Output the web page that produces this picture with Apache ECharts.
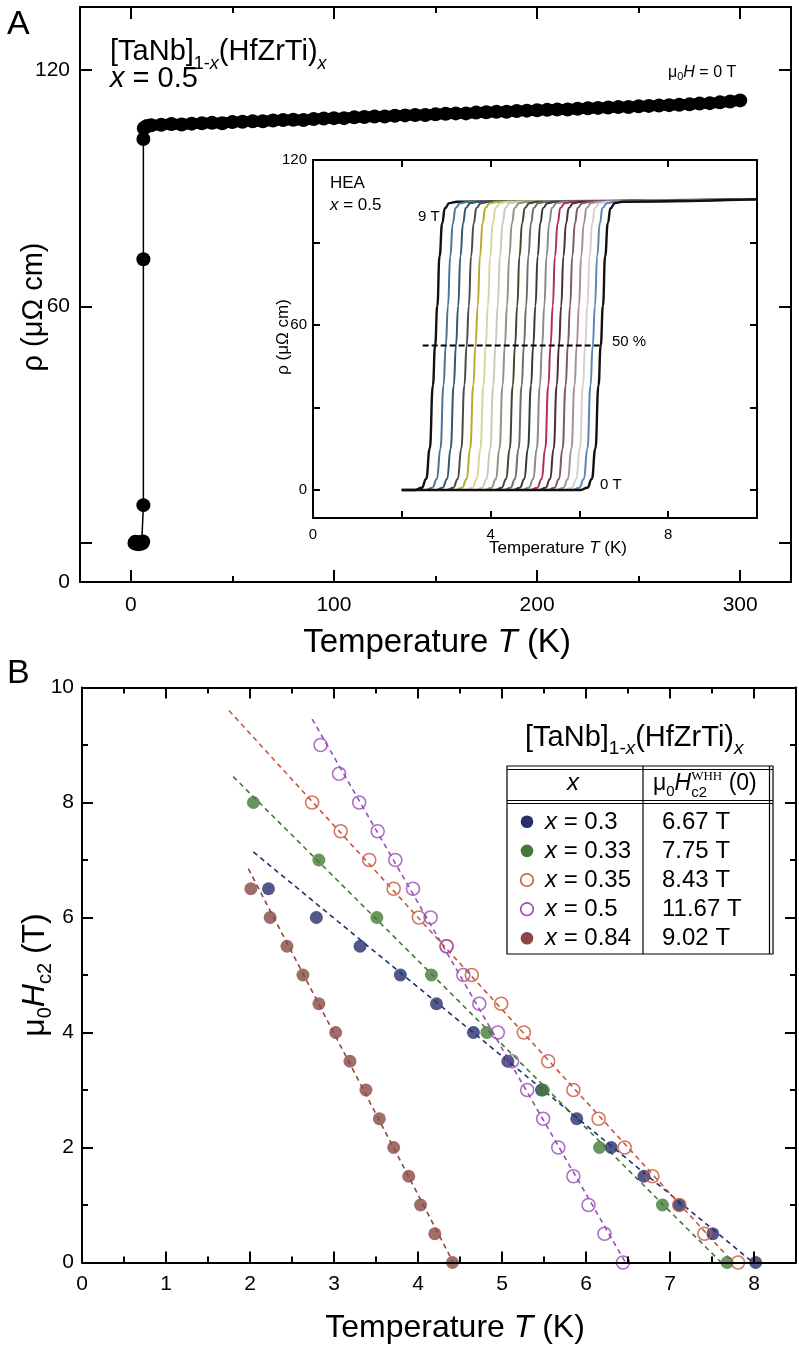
<!DOCTYPE html>
<html><head><meta charset="utf-8">
<script src="https://cdn.jsdelivr.net/npm/echarts@6/dist/echarts.min.js"></script>
<style>html,body{margin:0;padding:0;background:#fff}#c{width:799px;height:1351px}</style>
</head><body><div id="c"></div>
<script>
// ---------------- Panel A: resistivity vs temperature (0 T) ----------------
const tA = [1.8,2.2,2.6,3.0,3.4,3.8,4.2,4.6,5.0,5.4,5.8,6.1,6.2,6.2,6.2,6.4,
  7,8,10,15,20,25,30,35,40,45,50,55,60,65,70,75,80,85,90,95,100,105,110,115,120,125,130,135,140,145,
  150,155,160,165,170,175,180,185,190,195,200,205,210,215,220,225,230,235,240,245,250,255,260,265,270,
  275,280,285,290,295,300];
const rhoA = [0,0.3,-0.2,0.2,0,-0.3,0.2,0,-0.2,0.2,0,0.4,9.6,72,102.5,105.2,
  105.5,105.8,
  106.0,106.1,106.3,106.2,106.4,106.5,106.6,106.5,106.8,106.9,
  107.0,107.0,107.2,107.3,107.4,107.3,107.6,107.7,107.8,107.8,
  108.0,108.1,108.2,108.2,108.4,108.5,108.6,108.6,108.8,108.9,
  109.0,109.0,109.2,109.3,109.4,109.4,109.6,109.7,109.8,109.9,
  110.0,110.0,110.2,110.3,110.4,110.5,110.6,110.6,110.8,110.9,
  111.0,111.1,111.2,111.3,111.5,111.6,111.8,112.0,112.3];
const normalStart = 16; // index where the normal state begins
const tickA_x = [0,100,200,300];
const minorA_x = [50,150,250];
const tickA_y = [0,60,120];

// ---------------- Inset: transitions in field 9 T ... 0 T ----------------
const insetFields = [9,8.5,8,7.5,7,6.5,6,5.5,5,4.5,4,3.5,3,2.5,2,1.5,1,0.5,0];
const insetTc = [2.75,2.99,3.22,3.46,3.66,3.89,4.11,4.32,4.55,4.75,4.96,5.16,5.35,5.54,5.74,5.94,6.13,6.30,6.48];
const insetColors = ['#111111','#4d7392','#35586a','#4a4a4a','#b8aa2e','#d9d49c','#c9c9bc','#8f9483','#3d4a2e',
  '#6e6e6e','#2e3e3e','#8a8a8a','#b02f5c','#4a2c3c','#7d5a64','#a98f98','#d3d0d0','#5a86b5','#111111'];
const profileDT = [-0.45,-0.3,-0.2,-0.12,-0.05,0,0.05,0.1,0.16,0.22,0.32,0.5];
const profileRho = [0,0.8,4,15,38,52.5,67,85,97,102.5,104.3,104.8];
const insetStartT = 2.0, insetEnd = [10,105.7];
const halfLine = [[2.47,52.5],[6.5,52.5]];

// ---------------- Panel B: upper critical field ----------------
const navyT = [2.22,2.79,3.31,3.79,4.22,4.66,5.07,5.47,5.89,6.30,6.69,7.11,7.51,8.02];
const navyH = [6.5,6,5.5,5,4.5,4,3.5,3,2.5,2,1.5,1,0.5,0];
const greenT = [2.04,2.82,3.51,4.16,4.82,5.49,6.16,6.91,7.68];
const greenH = [8,7,6,5,4,3,2,1,0];
const orangeT = [2.74,3.08,3.42,3.71,4.01,4.34,4.64,4.99,5.26,5.55,5.85,6.15,6.46,6.79,7.11,7.41,7.81];
const orangeH = [8,7.5,7,6.5,6,5.5,5,4.5,4,3.5,3,2.5,2,1.5,1,0.5,0];
const purpleT = [2.84,3.06,3.30,3.52,3.73,3.94,4.15,4.34,4.54,4.73,4.95,5.12,5.30,5.49,5.67,5.85,6.03,6.22,6.44];
const purpleH = [9,8.5,8,7.5,7,6.5,6,5.5,5,4.5,4,3.5,3,2.5,2,1.5,1,0.5,0];
const brownT = [2.01,2.24,2.44,2.63,2.82,3.02,3.19,3.38,3.54,3.71,3.89,4.03,4.20,4.41];
const brownH = [6.5,6,5.5,5,4.5,4,3.5,3,2.5,2,1.5,1,0.5,0];
const navyFit = [[2.04,7.14],[7.99,0]];
const greenFit = [[1.80,8.45],[7.61,0]];
const orangeFit = [[1.75,9.6],[7.75,0]];
const purpleFit = [[2.74,9.45],[6.47,0]];
const brownFit = [[1.98,6.85],[4.42,0]];
const legendX = ['0.3','0.33','0.35','0.5','0.84'];
const legendVal = ['6.67 T','7.75 T','8.43 T','11.67 T','9.02 T'];
const tickB_x = [0,1,2,3,4,5,6,7,8];
const minorB_x = [0.5,1.5,2.5,3.5,4.5,5.5,6.5,7.5];

const C = {navy:'#24306b', green:'#447a36', orange:'#c5593d', purple:'#9a4db8', brown:'#8a4844'};
const legendColors = [C.navy, C.green, C.orange, C.purple, C.brown];
const legendOpen = [false,false,true,true,false];

const SANS = "'Liberation Sans', Arial, sans-serif";
const SERIF = "'Liberation Serif', 'Times New Roman', serif";

// ---------------- helpers ----------------
const mctx = document.createElement('canvas').getContext('2d');
function fontStr(p){ return (p.i ? 'italic ' : '') + p.s + 'px ' + (p.f || SANS); }
function layoutRun(parts){
  let x = 0, stackW = null; const pos = [];
  parts.forEach(p => {
    mctx.font = fontStr(p);
    const w = mctx.measureText(p.t).width;
    pos.push(x);
    if (p.stack) { stackW = w; }
    else { x += (stackW !== null ? Math.max(w, stackW) : w); stackW = null; }
  });
  return {pos, width: x};
}
function run(x0, yb, parts, center){
  const L = layoutRun(parts);
  const sx = center ? x0 - L.width / 2 : x0;
  return parts.map((p, k) => ({
    type: 'text', silent: true, z: 100,
    x: sx + L.pos[k], y: yb + (p.dy || 0) - 0.3465 * p.s,
    style: {text: p.t, font: fontStr(p), fill: '#000', align: 'left', verticalAlign: 'middle'}
  }));
}
function rotRun(cx, cy, parts, sMain){
  return {type: 'group', x: cx, y: cy, rotation: Math.PI / 2, silent: true, z: 100,
    children: run(0, 0.36 * sMain, parts, true)};
}
function mkAxis(gi, pos, min, max, opt){
  const a = {
    type: 'value', gridIndex: gi, position: pos, min: min, max: max,
    axisLine: {show: opt.line !== false, onZero: false, lineStyle: {color: '#000', width: 2}},
    axisTick: {show: true, inside: true, length: opt.tl, lineStyle: {color: '#000', width: opt.tw || 2}},
    axisLabel: {show: false},
    splitLine: {show: false}, z: 10
  };
  if (opt.interval) a.interval = opt.interval;
  if (opt.ticks) a.axisTick.customValues = opt.ticks;
  if (opt.minor) a.minorTick = {show: true, splitNumber: opt.minor, length: opt.ml, lineStyle: {color: '#000', width: 2}};
  if (opt.label) a.axisLabel = Object.assign({show: true, color: '#000', fontFamily: SANS,
    fontSize: opt.fs, margin: opt.margin}, opt.label);
  return a;
}
const pairs = (xs, ys) => xs.map((x, i) => [x, ys[i]]);

// ---------------- axes ----------------
const yAmin = -9.9, yAmax = 136;
const xAxis = [
  mkAxis(0,'bottom',-25,325,{tl:12, ticks:tickA_x, fs:21, margin:13, label:{customValues:tickA_x}}),
  mkAxis(0,'bottom',-25,325,{tl:6, ticks:minorA_x, line:false}),
  mkAxis(0,'top',-25,325,{tl:12, ticks:tickA_x}),
  mkAxis(0,'top',-25,325,{tl:6, ticks:minorA_x, line:false}),
  mkAxis(1,'bottom',0,10,{tl:7, interval:2, fs:15, margin:9,
    label:{formatter: v => (v % 4 === 0 && v < 10) ? String(v) : ''}}),
  mkAxis(1,'top',0,10,{tl:7, interval:2}),
  mkAxis(2,'bottom',0,8.5,{tl:11, ticks:tickB_x, fs:21, margin:11, label:{customValues:tickB_x}}),
  mkAxis(2,'bottom',0,8.5,{tl:6, ticks:minorB_x, line:false}),
  mkAxis(2,'top',0,8.5,{tl:11, ticks:tickB_x}),
  mkAxis(2,'top',0,8.5,{tl:6, ticks:minorB_x, line:false})
];
const yAxis = [
  mkAxis(0,'left',yAmin,yAmax,{tl:12, ticks:tickA_y, fs:21, margin:10,
    label:{customValues:[yAmin,60,120], formatter: v => (v < 0 ? '0' : String(v))}}),
  mkAxis(0,'right',yAmin,yAmax,{tl:12, ticks:tickA_y}),
  mkAxis(1,'left',-10.2,120,{tl:7, ticks:[0,30,60,90,120], fs:15, margin:6,
    label:{customValues:[0,60,120]}}),
  mkAxis(1,'right',-10.2,120,{tl:7, ticks:[0,30,60,90,120]}),
  mkAxis(2,'left',0,10,{tl:11, interval:2, minor:2, ml:6, fs:21, margin:8, label:{}}),
  mkAxis(2,'right',0,10,{tl:11, interval:2, minor:2, ml:6})
];

// ---------------- series ----------------
const series = [];
// thick band joining the dense normal-state points
series.push({type:'line', xAxisIndex:0, yAxisIndex:0, data: pairs(tA, rhoA).slice(normalStart), showSymbol:false,
  lineStyle:{color:'#000', width:11, cap:'round', join:'round'}, z:3});
series.push({type:'line', xAxisIndex:0, yAxisIndex:0, data: pairs(tA, rhoA), symbol:'circle', symbolSize:14,
  showSymbol:true, showAllSymbol:true, itemStyle:{color:'#000'}, lineStyle:{color:'#000', width:1.5}, z:3});
insetTc.forEach((tc, i) => {
  const d = [[insetStartT, 0]].concat(profileDT.map((dt, k) => [tc + dt, profileRho[k]]), [insetEnd]);
  series.push({type:'line', name: insetFields[i] + ' T', xAxisIndex:4, yAxisIndex:2, data:d, showSymbol:false,
    smooth:true, smoothMonotone:'x', lineStyle:{color: insetColors[i], width: (insetColors[i] === '#111111' ? 2.4 : 2)}, z:3});
});
series.push({type:'line', xAxisIndex:4, yAxisIndex:2, data: halfLine, showSymbol:false,
  lineStyle:{color:'#000', width:2, type:[6,3]}, z:4});

const fits = [[navyFit,C.navy],[greenFit,C.green],[orangeFit,C.orange],[purpleFit,C.purple],[brownFit,C.brown]];
fits.forEach(f => series.push({type:'line', xAxisIndex:6, yAxisIndex:4, data:f[0], showSymbol:false,
  lineStyle:{color:f[1], width:1.6, type:[5,4]}, z:2}));
const pts = [[navyT,navyH,C.navy,false],[greenT,greenH,C.green,false],[orangeT,orangeH,C.orange,true],
  [purpleT,purpleH,C.purple,true],[brownT,brownH,C.brown,false]];
pts.forEach(p => series.push({type:'scatter', xAxisIndex:6, yAxisIndex:4, data: pairs(p[0], p[1]),
  symbol:'circle', symbolSize:13,
  itemStyle: p[3] ? {color:'rgba(255,255,255,0)', borderColor:p[2], borderWidth:1.6} : {color:p[2]}, z:3}));

// ---------------- graphic texts / table ----------------
let g = [];
g = g.concat(run(7, 36, [{t:'A', s:34}]));
g = g.concat(run(110, 62, [{t:'[TaNb]', s:29},{t:'1-', s:18, dy:8},{t:'x', s:18, i:1, dy:8},{t:'(HfZrTi)', s:29},{t:'x', s:18, i:1, dy:8}]));
g = g.concat(run(110, 89, [{t:'x', s:29, i:1},{t:' = 0.5', s:29}]));
g = g.concat(run(668, 78, [{t:'μ', s:16},{t:'0', s:11, dy:3},{t:'H', s:16, i:1},{t:' = 0 T', s:16}]));
g = g.concat(run(330, 189, [{t:'HEA', s:17}]));
g = g.concat(run(330, 211, [{t:'x', s:17, i:1},{t:' = 0.5', s:17}]));
g = g.concat(run(418, 222, [{t:'9 T', s:15}]));
g = g.concat(run(600, 490, [{t:'0 T', s:15}]));
g = g.concat(run(612, 347, [{t:'50 %', s:15}]));
g = g.concat(run(558, 554, [{t:'Temperature ', s:17},{t:'T', s:17, i:1},{t:' (K)', s:17}], true));
g.push(rotRun(283, 337, [{t:'ρ (μΩ cm)', s:17}], 17));
g = g.concat(run(437, 654, [{t:'Temperature ', s:33},{t:'T', s:33, i:1},{t:' (K)', s:33}], true));
g.push(rotRun(34, 307, [{t:'ρ (μΩ cm)', s:29}], 29));
g = g.concat(run(7, 685, [{t:'B', s:34}]));
g = g.concat(run(455, 1339, [{t:'Temperature ', s:32},{t:'T', s:32, i:1},{t:' (K)', s:32}], true));
g.push(rotRun(35, 975, [{t:'μ', s:32},{t:'0', s:20, dy:6},{t:'H', s:32, i:1},{t:'c2', s:20, dy:6},{t:' (T)', s:32}], 32));
g = g.concat(run(525, 748, [{t:'[TaNb]', s:29},{t:'1-', s:19, dy:7},{t:'x', s:19, i:1, dy:7},{t:'(HfZrTi)', s:29},{t:'x', s:19, i:1, dy:7}]));
// table
const TL = 507, TR = 773, TT = 766, TB = 954, TD = 643;
const ln = (x1,y1,x2,y2,w) => ({type:'line', silent:true, z:90, shape:{x1,y1,x2,y2}, style:{stroke:'#000', lineWidth:w||1.2}});
g.push({type:'rect', silent:true, z:89, shape:{x:TL, y:TT, width:TR-TL, height:TB-TT}, style:{fill:'#fff', stroke:'#000', lineWidth:1.2}});
g.push(ln(TL,TT+3.5,TR,TT+3.5), ln(TL,800.5,TR,800.5), ln(TL,803.5,TR,803.5), ln(TR-3.5,TT,TR-3.5,TB), ln(TD,TT,TD,TB));
g = g.concat(run(573, 792, [{t:'x', s:24, i:1}], true));
g = g.concat(run(653, 792, [{t:'μ', s:23},{t:'0', s:15, dy:5},{t:'H', s:23, i:1},{t:'WHH', s:13, f:SERIF, dy:-11, stack:1},{t:'c2', s:15, dy:6},{t:' (0)', s:23}]));
legendX.forEach((lx, k) => {
  const cy = 821.7 + k * 29.15;
  g.push({type:'circle', silent:true, z:95, shape:{cx:527, cy:cy, r:6.3},
    style: legendOpen[k] ? {fill:'#fff', stroke:legendColors[k], lineWidth:1.6} : {fill:legendColors[k]}});
  g = g.concat(run(545, cy + 8.6, [{t:'x', s:24, i:1},{t:' = ' + lx, s:24}]));
  g = g.concat(run(662, cy + 8.6, [{t:legendVal[k], s:24}]));
});

const option = {
  animation: false,
  backgroundColor: '#fff',
  grid: [
    {left:80, top:7, width:711, height:575, containLabel:false},
    {left:313, top:160, width:444, height:358, containLabel:false},
    {left:82, top:687.5, width:714, height:575, containLabel:false}
  ],
  xAxis: xAxis, yAxis: yAxis, series: series, graphic: g
};
const chart = echarts.init(document.getElementById('c'), null, {renderer:'canvas'});
chart.setOption(option);
</script></body></html>
